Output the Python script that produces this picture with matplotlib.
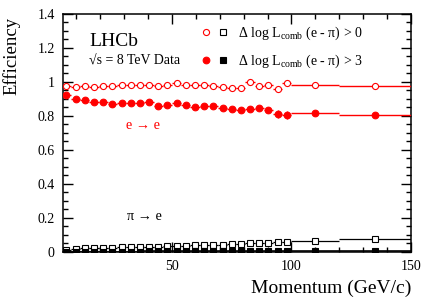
import matplotlib
matplotlib.use('Agg')
import matplotlib.pyplot as plt
import numpy as np
from matplotlib.lines import Line2D
from matplotlib.legend_handler import HandlerTuple
from matplotlib.ticker import MultipleLocator, FormatStrFormatter

plt.rcParams['font.family'] = ['Liberation Serif', 'DejaVu Serif']
plt.rcParams['mathtext.fontset'] = 'custom'
plt.rcParams['mathtext.rm'] = 'Liberation Serif'
plt.rcParams['mathtext.it'] = 'Liberation Serif:italic'

# Momentum bin edges (GeV/c)
edges = [4, 7.84, 11.68, 15.52, 19.36, 23.2, 27.04, 30.88, 34.72, 38.56, 42.4,
         46.24, 50.08, 53.92, 57.76, 61.6, 65.44, 69.28, 73.12, 76.96, 80.8,
         84.64, 88.48, 92.32, 96.16, 100, 120, 150]

# e -> e efficiency, DLLe > 0 (open red circles)
ee_dll0 = [0.976, 0.972, 0.978, 0.969, 0.978, 0.976, 0.980, 0.982, 0.980, 0.980,
           0.975, 0.980, 0.992, 0.984, 0.984, 0.984, 0.978, 0.972, 0.967, 0.963,
           1.002, 0.978, 0.982, 0.961, 0.992, 0.982, 0.978]
ee_dll0_err = [0.004, 0.003, 0.003, 0.003, 0.003, 0.003, 0.003, 0.003, 0.003, 0.003,
               0.003, 0.003, 0.004, 0.004, 0.004, 0.004, 0.004, 0.005, 0.005, 0.005,
               0.006, 0.006, 0.006, 0.007, 0.007, 0.004, 0.004]

# e -> e efficiency, DLLe > 3 (filled red circles)
ee_dll3 = [0.924, 0.900, 0.892, 0.880, 0.882, 0.869, 0.878, 0.878, 0.878, 0.882,
           0.857, 0.867, 0.876, 0.863, 0.855, 0.859, 0.859, 0.847, 0.839, 0.837,
           0.843, 0.845, 0.835, 0.812, 0.806, 0.816, 0.808]
ee_dll3_err = [0.006, 0.005, 0.005, 0.005, 0.005, 0.005, 0.005, 0.005, 0.005, 0.006,
               0.006, 0.006, 0.007, 0.007, 0.008, 0.008, 0.009, 0.010, 0.012, 0.013,
               0.015, 0.016, 0.016, 0.022, 0.025, 0.010, 0.012]

# pi -> e misidentification, DLLe > 0 (open black squares)
pie_dll0 = [0.010, 0.018, 0.021, 0.022, 0.024, 0.026, 0.027, 0.029, 0.030, 0.031,
            0.031, 0.033, 0.035, 0.037, 0.039, 0.040, 0.043, 0.044, 0.047, 0.049,
            0.050, 0.052, 0.055, 0.058, 0.061, 0.066, 0.078]

# pi -> e misidentification, DLLe > 3 (filled black squares)
pie_dll3 = [0.001, 0.001, 0.002, 0.002, 0.002, 0.002, 0.002, 0.002, 0.002, 0.003,
            0.003, 0.003, 0.003, 0.003, 0.003, 0.003, 0.003, 0.003, 0.003, 0.003,
            0.003, 0.003, 0.003, 0.003, 0.003, 0.003, 0.003]

edges = np.array(edges)
x = 0.5 * (edges[:-1] + edges[1:])
xerr = 0.5 * (edges[1:] - edges[:-1])

fig = plt.figure(figsize=(4.45, 3.01), dpi=100)
ax = fig.add_axes([0.1416, 0.1628, 0.7820, 0.7907])

red = '#ff0000'
ms = 4.4
ax.errorbar(x, pie_dll0, xerr=xerr, fmt='s', color='black', mfc='white', mec='black',
            ms=ms, mew=0.8, elinewidth=0.9, capsize=0, zorder=3)
ax.errorbar(x, pie_dll3, xerr=xerr, fmt='s', color='black', mfc='black', mec='black',
            ms=ms, mew=0.8, elinewidth=1.2, capsize=0, zorder=3)
ax.errorbar(x, ee_dll0, xerr=xerr, yerr=ee_dll0_err, fmt='o', color=red, mfc='white',
            mec=red, ms=ms, mew=0.8, elinewidth=1.0, capsize=0, zorder=4)
ax.errorbar(x, ee_dll3, xerr=xerr, yerr=ee_dll3_err, fmt='o', color=red, mfc=red,
            mec=red, ms=ms + 0.4, mew=0.8, elinewidth=1.0, capsize=0, zorder=4)

ax.set_xlim(4.5, 150)
ax.set_ylim(0, 1.4)
ax.xaxis.set_major_locator(MultipleLocator(50))
ax.xaxis.set_minor_locator(MultipleLocator(10))
ax.yaxis.set_major_locator(MultipleLocator(0.2))
ax.yaxis.set_minor_locator(MultipleLocator(0.05))
ax.yaxis.set_major_formatter(FormatStrFormatter('%g'))
ax.tick_params(which='both', direction='in', top=True, right=True, labelsize=10)
ax.tick_params(which='major', length=7, width=1.0)
ax.tick_params(which='minor', length=3.5, width=1.0)
for s in ax.spines.values():
    s.set_linewidth(1.1)
ax.tick_params(axis='x', pad=6)
ax.tick_params(axis='y', pad=6)

ax.set_ylabel('Efficiency', fontsize=13.5)
ax.yaxis.set_label_coords(-0.147, 0.99)
ax.yaxis.label.set_rotation_mode('anchor')
ax.yaxis.label.set_horizontalalignment('right')
ax.yaxis.label.set_verticalalignment('center')
ax.set_xlabel('Momentum (GeV/c)', fontsize=14)
ax.xaxis.set_label_coords(1.0, -0.115)
ax.xaxis.label.set_horizontalalignment('right')

ax.text(0.075, 0.883, 'LHCb', transform=ax.transAxes, fontsize=14, va='center')
ax.text(0.075, 0.803, '\u221as = 8 TeV Data', transform=ax.transAxes, fontsize=10, va='center')
ax.text(38, 0.747, 'e \u2192 e', color=red, fontsize=10.3, ha='center', va='center')
ax.text(38.5, 0.208, '\u03c0 \u2192 e', color='black', fontsize=10.3, ha='center', va='center')

h0 = (Line2D([], [], ls='none', marker='o', mfc='white', mec=red, ms=ms, mew=0.8),
      Line2D([], [], ls='none', marker='s', mfc='white', mec='black', ms=ms, mew=0.8))
h3 = (Line2D([], [], ls='none', marker='o', mfc=red, mec=red, ms=ms + 0.4, mew=0.8),
      Line2D([], [], ls='none', marker='s', mfc='black', mec='black', ms=ms, mew=0.8))
ax.legend([h0, h3],
          ['\u0394 log L$_{\\mathrm{comb}}$ (e - \u03c0) > 0',
           '\u0394 log L$_{\\mathrm{comb}}$ (e - \u03c0) > 3'],
          handler_map={tuple: HandlerTuple(ndivide=None, pad=0.2)},
          loc='upper left', bbox_to_anchor=(0.39, 0.955), frameon=False,
          fontsize=10, handlelength=2.3, handletextpad=0.5, labelspacing=0.75,
          borderpad=0, borderaxespad=0)

fig.savefig('out.png', dpi=100)
